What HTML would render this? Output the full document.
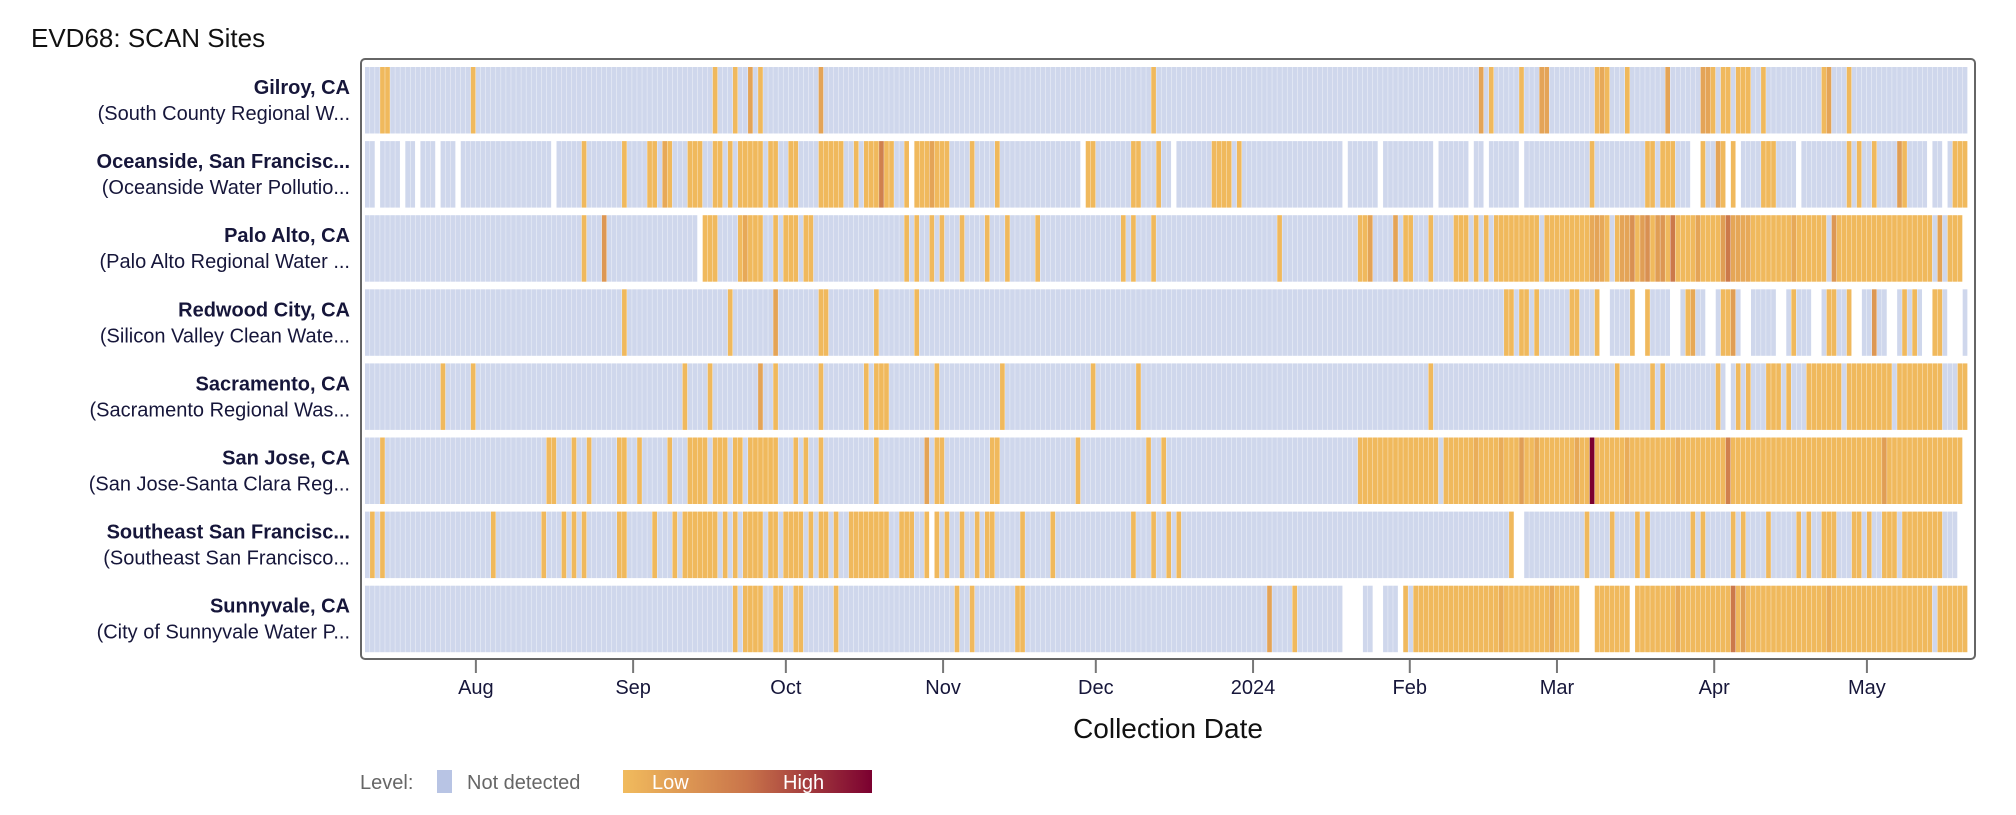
<!DOCTYPE html>
<html><head><meta charset="utf-8"><style>
body{margin:0;background:#fff;width:2016px;height:810px;overflow:hidden;font-family:"Liberation Sans",Arial,sans-serif}
</style></head><body>
<svg id="chart" width="2016" height="810" xmlns="http://www.w3.org/2000/svg" font-family="Liberation Sans, Arial, sans-serif">
<text x="31" y="47" font-size="26" fill="#111">EVD68: SCAN Sites</text>
<rect x="361" y="59" width="1614" height="600" rx="4" fill="#fff" stroke="#666" stroke-width="2"/>
<g id="cells"></g>
<g id="labels"></g>
<g id="axis"></g>
<text x="1168" y="738" font-size="28" text-anchor="middle" fill="#111">Collection Date</text>
<g>
<text x="360" y="789" font-size="20" fill="#666">Level:</text>
<rect x="437" y="770" width="15" height="23" fill="#b8c4e4"/>
<text x="467" y="789" font-size="20" fill="#666">Not detected</text>
<defs><linearGradient id="lg" x1="0" x2="1"><stop offset="0" stop-color="#f1bb5d"/><stop offset="0.5" stop-color="#c9744a"/><stop offset="1" stop-color="#7b0030"/></linearGradient></defs>
<rect x="623" y="770" width="249" height="23" fill="url(#lg)"/>
<text x="652" y="789" font-size="20" fill="#fff">Low</text>
<text x="783" y="789" font-size="20" fill="#fff">High</text>
</g>
</svg>
<script>
const siteNames = ["Gilroy, CA","Oceanside, San Francisc...","Palo Alto, CA","Redwood City, CA","Sacramento, CA","San Jose, CA","Southeast San Francisc...","Sunnyvale, CA"];
const facilityNames = ["(South County Regional W...","(Oceanside Water Pollutio...","(Palo Alto Regional Water ...","(Silicon Valley Clean Wate...","(Sacramento Regional Was...","(San Jose-Santa Clara Reg...","(Southeast San Francisco...","(City of Sunnyvale Water P..."];
const lastDay = [317,317,316,317,317,316,315,317];
const lowRanges = [
 [[3,4],[21,21],[69,69],[73,73],[78,78],[156,156],[223,223],[229,229],[244,246],[250,250],[267,267],[269,270],[272,274],[277,277],[289,289],[294,294]],
 [[43,43],[51,51],[56,57],[59,60],[64,66],[69,70],[72,72],[74,78],[80,81],[84,85],[90,94],[97,97],[99,101],[103,104],[107,107],[109,115],[120,120],[125,125],[143,144],[152,153],[157,157],[168,171],[173,173],[243,243],[254,255],[257,259],[265,265],[269,269],[271,271],[277,279],[294,294],[296,296],[299,299],[305,305],[315,317]],
 [[43,43],[67,69],[74,78],[81,81],[83,85],[87,88],[107,107],[109,109],[112,112],[114,114],[118,118],[123,123],[127,127],[133,133],[150,150],[152,152],[156,156],[181,181],[197,199],[206,207],[211,211],[216,218],[220,220],[222,222],[224,232],[234,246],[248,289],[291,310],[312,312],[314,316]],
 [[51,51],[72,72],[90,91],[101,101],[109,109],[226,227],[229,230],[232,232],[239,240],[244,244],[251,251],[254,254],[262,263],[269,271],[283,283],[290,291],[294,294],[305,305],[307,307],[311,312]],
 [[15,15],[21,21],[63,63],[68,68],[81,81],[90,90],[99,99],[101,103],[113,113],[126,126],[144,144],[153,153],[211,211],[248,248],[255,255],[257,257],[268,268],[272,272],[274,274],[278,280],[282,282],[286,292],[294,302],[304,312],[316,317]],
 [[3,3],[36,37],[41,41],[44,44],[50,51],[54,54],[60,60],[64,67],[69,71],[73,74],[76,81],[85,85],[87,87],[90,90],[101,101],[111,111],[113,114],[124,125],[141,141],[155,155],[158,158],[197,212],[214,316]],
 [[1,1],[3,3],[25,25],[35,35],[39,39],[41,41],[43,43],[50,51],[57,57],[61,61],[63,69],[71,71],[73,73],[75,78],[80,81],[83,86],[88,88],[90,91],[93,93],[96,103],[106,108],[111,111],[113,113],[115,115],[118,118],[121,121],[123,124],[130,130],[136,136],[152,152],[156,156],[159,159],[161,161],[227,227],[242,242],[247,247],[252,252],[254,254],[263,263],[265,265],[271,271],[273,273],[278,278],[284,284],[286,286],[289,291],[295,296],[298,298],[301,303],[305,312]],
 [[73,73],[75,78],[81,82],[85,86],[93,93],[117,117],[120,120],[129,130],[184,184],[206,206],[208,240],[244,250],[252,310],[312,317]]
];
const elevated = [
 [[76,.3],[90,.3],[221,.3],[233,.3],[234,.3],[245,.25],[258,.3],[265,.3],[266,.3],[290,.3]],
 [[59,.25],[102,.55],[112,.3],[268,.3],[304,.35]],
 [[47,.4],[75,.25],[199,.3],[204,.3],[243,.25],[244,.3],[245,.25],[249,.3],[250,.3],[251,.45],[253,.35],[254,.45],[256,.35],[257,.4],[259,.6],[264,.3],[269,.35],[270,.6],[271,.28],[272,.28],[273,.25],[274,.25],[283,.25],[291,.4],[312,.3]],
 [[81,.3],[263,.25],[271,.35],[299,.4]],
 [[78,.3]],
 [[111,.3],[220,.2],[225,.22],[229,.35],[232,.25],[240,.25],[243,1.0],[250,.22],[260,.2],[270,.55],[301,.35]],
 [],
 [[179,.3],[225,.22],[235,.25],[260,.25],[271,.6],[273,.35],[290,.22]]
];
const missingRanges = [
 [],
 [[2,2],[7,7],[10,10],[14,14],[18,18],[37,37],[108,108],[142,142],[160,160],[194,194],[201,201],[212,212],[219,219],[222,222],[229,229],[263,264],[270,270],[272,272],[284,284],[310,310],[313,313]],
 [[66,66]],
 [[245,246],[252,253],[259,260],[266,267],[273,274],[280,281],[287,288],[295,296],[302,303],[309,310],[314,316]],
 [[270,270]],
 [],
 [[112,112],[228,229]],
 [[194,197],[200,201],[205,205],[241,243],[251,251]]
];
const tickLabels = ["Aug","Sep","Oct","Nov","Dec","2024","Feb","Mar","Apr","May"];
const tickDays = [22.0,53.2,83.5,114.7,145.0,176.2,207.3,236.5,267.7,298.0];

const NS="http://www.w3.org/2000/svg";
const X0=365, DW=5.04, ROW0=67, PITCH=74.1, RH=66.5;
function xScale(d){return X0+d*DW;}
function yRow(i){return ROW0+i*PITCH;}
function hex(c){return [parseInt(c.slice(1,3),16),parseInt(c.slice(3,5),16),parseInt(c.slice(5,7),16)];}
const s0=hex("#f1bb5d"),s1=hex("#c9744a"),s2=hex("#7b0030");
function levelColor(v){
  v=Math.pow(v,1.5);
  let a,b,t;
  if(v<=0.5){a=s0;b=s1;t=v/0.5;}else{a=s1;b=s2;t=(v-0.5)/0.5;}
  return "rgb("+a.map((c,k)=>Math.round(c+(b[k]-c)*t)).join(",")+")";
}
const cells=document.getElementById("cells");
siteNames.forEach((name,i)=>{
  const vals=new Array(lastDay[i]+1).fill(-1);
  lowRanges[i].forEach(r=>{for(let d=r[0];d<=r[1];d++)vals[d]=0.05;});
  elevated[i].forEach(e=>{vals[e[0]]=e[1];});
  missingRanges[i].forEach(r=>{for(let d=r[0];d<=r[1];d++)vals[d]=null;});
  const g=document.createElementNS(NS,"g");
  
  
  vals.forEach((v,d)=>{
    if(v===null)return;
    const r=document.createElementNS(NS,"rect");
    
    
    r.setAttribute("x",xScale(d).toFixed(2));
    r.setAttribute("y",yRow(i));
    r.setAttribute("width",(DW-0.35).toFixed(2));
    r.setAttribute("height",RH);
    r.setAttribute("fill",v<0?"#cfd7ec":levelColor(v));
    g.appendChild(r);
  });
  cells.appendChild(g);
  const lab=document.getElementById("labels");
  const t1=document.createElementNS(NS,"text");
  
  
  t1.setAttribute("x",350);t1.setAttribute("y",yRow(i)+27);
  t1.setAttribute("text-anchor","end");t1.setAttribute("font-size","20");
  t1.setAttribute("font-weight","bold");t1.setAttribute("fill","#16163a");
  t1.textContent=name;lab.appendChild(t1);
  const t2=document.createElementNS(NS,"text");
  
  
  t2.setAttribute("x",350);t2.setAttribute("y",yRow(i)+53);
  t2.setAttribute("text-anchor","end");t2.setAttribute("font-size","20");
  t2.setAttribute("fill","#16163a");
  t2.textContent=facilityNames[i];lab.appendChild(t2);
});
const ax=document.getElementById("axis");
tickLabels.forEach((lbl,k)=>{
  const x=xScale(tickDays[k]);
  const l=document.createElementNS(NS,"line");
  
  
  l.setAttribute("x1",x);l.setAttribute("x2",x);l.setAttribute("y1",660);l.setAttribute("y2",673);
  l.setAttribute("stroke","#777");l.setAttribute("stroke-width","2");
  ax.appendChild(l);
  const t=document.createElementNS(NS,"text");
  
  
  t.setAttribute("x",x);t.setAttribute("y",694);t.setAttribute("text-anchor","middle");
  t.setAttribute("font-size","20");t.setAttribute("fill","#16163a");
  t.textContent=lbl;ax.appendChild(t);
});
</script>
</body></html>
